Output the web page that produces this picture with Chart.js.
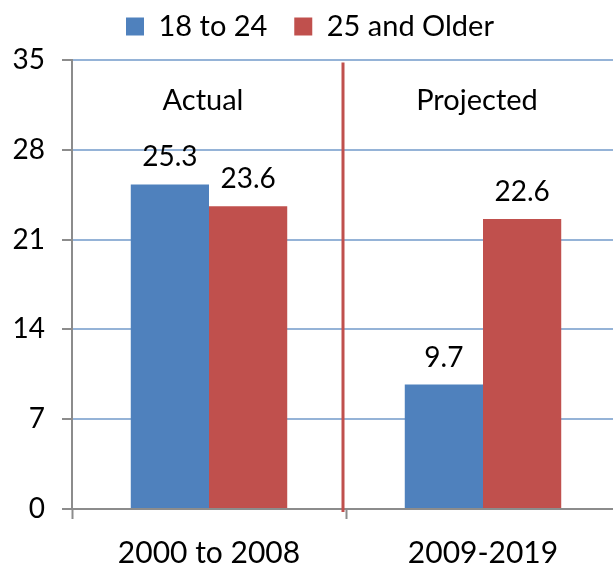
<!DOCTYPE html>
<html>
<head>
<meta charset="utf-8">
<script src="https://cdn.jsdelivr.net/npm/chart.js@4/dist/chart.umd.min.js"></script>
<style>
html,body{margin:0;padding:0;background:#fff;overflow:hidden;}
#wrap{width:620px;height:568px;position:relative;}
</style>
</head>
<body>
<div id="wrap"><canvas id="c" width="620" height="568"></canvas></div>
<script>
const categories = ["2000 to 2008", "2009-2019"];
const seriesNames = ["18 to 24", "25 and Older"];
const youngValues = [25.3, 9.7];
const olderValues = [23.6, 22.6];
const periodLabels = ["Actual", "Projected"];
const yTicks = [0, 7, 14, 21, 28, 35];

const FONT = "Lato, 'Liberation Sans', sans-serif";
const BLUE = "#4F81BD", RED = "#C0504D", GRID = "#95B3D7", AXIS = "#8C8C8C";

const legendSpacer = {
  id: "legendSpacer",
  beforeInit(chart) {
    const lg = chart.legend;
    if (!lg) return;
    const orig = lg.fit;
    lg.fit = function () { orig.call(this); this.height += 9; };
  }
};

const overlay = {
  id: "overlay",
  afterDatasetsDraw(chart) {
    const ctx = chart.ctx;
    const x = chart.scales.x, y = chart.scales.y;
    ctx.save();
    const mid = (x.getPixelForValue(0) + x.getPixelForValue(1)) / 2 - 3;
    ctx.strokeStyle = RED;
    ctx.lineWidth = 3;
    ctx.beginPath();
    ctx.moveTo(mid, y.getPixelForValue(34.8));
    ctx.lineTo(mid, y.getPixelForValue(0) + 3);
    ctx.stroke();
    ctx.fillStyle = "#000";
    ctx.font = "29px " + FONT;
    ctx.textAlign = "center";
    ctx.textBaseline = "middle";
    periodLabels.forEach((t, i) => {
      ctx.fillText(t, x.getPixelForValue(i) - 6, y.getPixelForValue(31.8));
    });
    ctx.font = "28px " + FONT;
    chart.data.datasets.forEach((ds, di) => {
      const meta = chart.getDatasetMeta(di);
      meta.data.forEach((bar, i) => {
        ctx.fillText(ds.data[i].toFixed(1), bar.x, bar.y - 27);
      });
    });
    ctx.restore();
  }
};

new Chart(document.getElementById("c"), {
  type: "bar",
  data: {
    labels: categories,
    datasets: [
      { label: seriesNames[0], data: youngValues, backgroundColor: BLUE },
      { label: seriesNames[1], data: olderValues, backgroundColor: RED }
    ]
  },
  options: {
    responsive: false,
    animation: false,
    devicePixelRatio: 1,
    layout: { padding: { top: 0, right: 0, left: 0, bottom: 0 } },
    datasets: { bar: { barPercentage: 1.0, categoryPercentage: 0.571 } },
    plugins: {
      legend: {
        position: "top",
        labels: {
          boxWidth: 18, boxHeight: 18, padding: 12,
          font: { size: 29, family: FONT }, color: "#000",
          generateLabels(chart) {
            const items = Chart.defaults.plugins.legend.labels.generateLabels(chart);
            items.forEach((it, i) => { if (i < items.length - 1) it.text = it.text + "  "; });
            return items;
          }
        }
      },
      tooltip: { enabled: false }
    },
    scales: {
      x: {
        grid: {
          offset: true, drawOnChartArea: false, tickLength: 10,
          tickColor: AXIS, tickWidth: 2
        },
        border: { color: AXIS, width: 2 },
        ticks: { font: { size: 30, family: FONT }, color: "#000", padding: 16 },
        afterFit(s) { s.height = 59; }
      },
      y: {
        min: 0, max: 35,
        afterBuildTicks(s) { s.ticks = yTicks.map(v => ({ value: v })); },
        grid: {
          color: (c) => c.tick && c.tick.value === 0 ? AXIS : GRID,
          lineWidth: 2, tickLength: 10, tickColor: AXIS, tickWidth: 2
        },
        border: { color: AXIS, width: 2 },
        ticks: { font: { size: 28, family: FONT }, color: "#000", padding: 17 },
        afterFit(s) { s.width = 72; }
      }
    }
  },
  plugins: [legendSpacer, overlay]
});
</script>
</body>
</html>
